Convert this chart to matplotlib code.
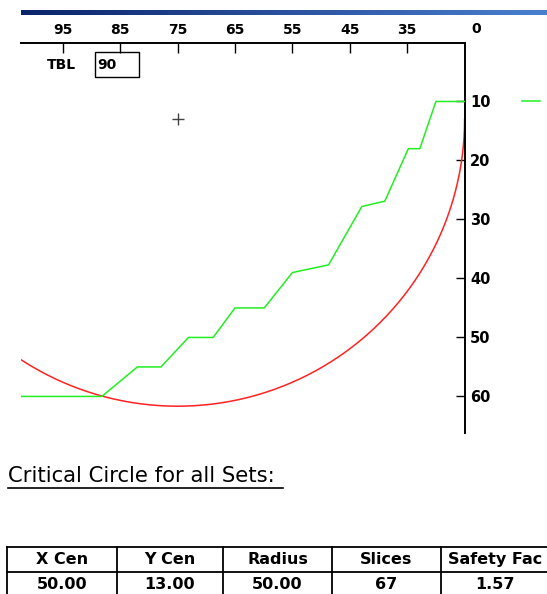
import numpy as np
import matplotlib.pyplot as plt
from matplotlib.patches import Rectangle
from matplotlib.colors import LinearSegmentedColormap

plt.rcParams['font.family'] = 'DejaVu Sans'
plt.rcParams['font.weight'] = 'bold'

# ground surface profile (horizontal distance, depth)
ground_x = [102.3, 88.2, 82.0, 77.9, 73.1, 68.8, 65.0, 59.9, 55.0, 48.7, 42.9, 38.9, 34.8, 32.8, 30.0, 25.0]
ground_y = [60, 60, 55, 55, 50, 50, 45, 45, 39, 37.7, 27.8, 26.9, 18, 18, 10, 10]

# small green mark right of the axis
mark_x = [15.0, 11.9]
mark_y = [10, 10]

# critical circle (chart coordinates)
circ_x, circ_y, circ_r = 75, 13, 50

xticks = [95, 85, 75, 65, 55, 45, 35]
yticks = [10, 20, 30, 40, 50, 60]
tbl_value = '90'

col_names = ['X Cen', 'Y Cen', 'Radius', 'Slices', 'Safety Fac']
col_vals = ['50.00', '13.00', '50.00', '67', '1.57']

W, H = 547, 594
fig = plt.figure(figsize=(W / 100, H / 100), dpi=100)

# background axes in pixel units for the decorations
bg = fig.add_axes([0, 0, 1, 1])
bg.set_xlim(0, W)
bg.set_ylim(H, 0)
bg.axis('off')

# title-bar style gradient strip
grad = np.linspace(0, 1, 256)[None, :]
cmap = LinearSegmentedColormap.from_list('bar', ['#0a246a', '#4a7fd0'])
bg.imshow(grad, cmap=cmap, aspect='auto', extent=[21, W, 15, 10])

# chart
ax = fig.add_axes([21 / W, 1 - 433 / H, (464.6 - 21) / W, (433 - 42.5) / H])
ax.set_facecolor('none')
ax.set_xlim(102.28, 25)
ax.set_ylim(66.2, 0)
for s in ['left', 'bottom']:
    ax.spines[s].set_visible(False)
for s in ['top', 'right']:
    ax.spines[s].set_linewidth(1.4)

ax.xaxis.tick_top()
ax.set_xticks(xticks)
ax.tick_params(axis='x', direction='in', length=7.2, width=1.0, pad=4, labelsize=10)
ax.yaxis.tick_right()
ax.set_yticks(yticks)
ax.tick_params(axis='y', direction='in', length=6.5, width=1.0, pad=4, labelsize=10.5)
ax.text(23.0, -1.05, '0', ha='center', va='bottom', fontsize=10, clip_on=False)

ax.plot(ground_x, ground_y, color='#22ee22', lw=1.1, zorder=5)
ax.plot(mark_x, mark_y, color='#22ee22', lw=1.1, clip_on=False)

# draw the circle round on screen: y radius scaled by the pixel ratio
p0 = ax.transData.transform((0, 0))
p1 = ax.transData.transform((1, 1))
k = abs(p1[0] - p0[0]) / abs(p1[1] - p0[1])
th = np.linspace(0, np.pi, 400)
ax.plot(circ_x - circ_r * np.cos(th), circ_y + circ_r * k * np.sin(th), color='#ff2222', lw=1.1)
ax.plot([circ_x], [circ_y], marker='+', color='#444444', markersize=8, mew=1.0)

# TBL box
bg.text(61, 65, 'TBL', ha='center', va='center', fontsize=10)
bg.add_patch(Rectangle((95, 52), 44, 25, fill=False, lw=1.0, ec='k'))
bg.text(97, 65, tbl_value, ha='left', va='center', fontsize=10)

# heading
bg.text(8, 482, 'Critical Circle for all Sets:', ha='left', va='baseline',
        fontsize=15.2, fontweight='normal')
bg.plot([8, 283], [488, 488], color='k', lw=1.2)

# results table
edges = [7, 117, 223, 332, 441, 549]
rows = [547, 572, 597]
for yy in rows:
    bg.plot([edges[0], edges[-1]], [yy, yy], color='k', lw=1.3, clip_on=False)
for xx in edges:
    bg.plot([xx, xx], [rows[0], rows[-1]], color='k', lw=1.3, clip_on=False)
for i in range(len(col_names)):
    cx = (edges[i] + edges[i + 1]) / 2
    bg.text(cx, 559.5, col_names[i], ha='center', va='center', fontsize=11.5)
    bg.text(cx, 584.5, col_vals[i], ha='center', va='center', fontsize=11.5)

fig.savefig('out.png', dpi=100)
